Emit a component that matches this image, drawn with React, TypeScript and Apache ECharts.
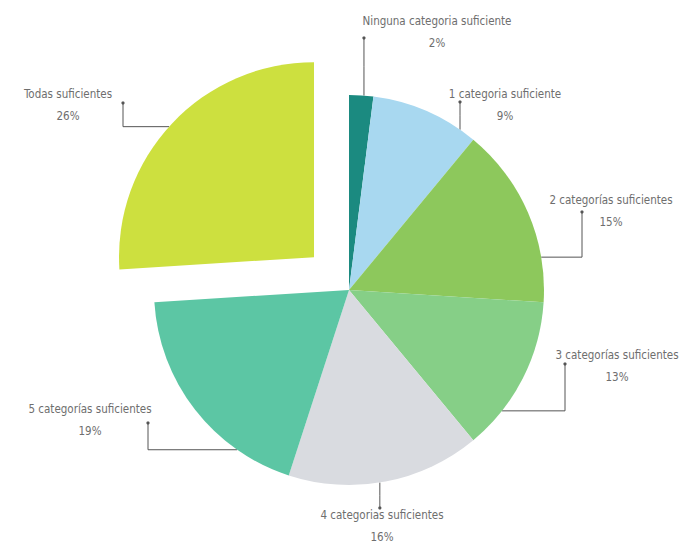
import React, { useEffect, useRef } from "react";
import * as echarts from "echarts";

const categories = [
  "Ninguna categoria suficiente",
  "1 categoria suficiente",
  "2 categorías suficientes",
  "3 categorías suficientes",
  "4 categorias suficientes",
  "5 categorías suficientes",
  "Todas suficientes",
];
const percentages = [2, 9, 15, 13, 16, 19, 26];
const colors = ["#1b8a80", "#a8d8f0", "#8dc85c", "#86cf87", "#d9dbe0", "#5cc6a4", "#cde03f"];

const CX = 349;
const CY = 290;
const R = 195;
const EXPLODE = 48;
const EXPLODED_INDEX = 6;

// label layout: anchor angle on the arc (deg), elbow x (null = straight), tip y, text centre
const labelLayoutCfg = [
  { angle: 85.6, elbowX: null, tipY: 38, tx: 437, ty: 32 },
  { angle: 55.3, elbowX: null, tipY: 102, tx: 505, ty: 105 },
  { angle: 9.7, elbowX: 582, tipY: 212, tx: 611, ty: 211 },
  { angle: -38.3, elbowX: 565, tipY: 364, tx: 617, ty: 366 },
  { angle: -80.9, elbowX: null, tipY: 508, tx: 382, ty: 526 },
  { angle: 235, elbowX: 148, tipY: 423, tx: 90, ty: 420 },
  { angle: 138, elbowX: 123, tipY: 103, tx: 68, ty: 105 },
];

function sliceCenter(idx: number): [number, number] {
  if (idx !== EXPLODED_INDEX) return [CX, CY];
  const total = percentages.reduce((a, b) => a + b, 0);
  let before = 0;
  for (let i = 0; i < idx; i++) before += percentages[i];
  const startDeg = 90 - (before / total) * 360;
  const endDeg = startDeg - (percentages[idx] / total) * 360;
  const mid = (((startDeg + endDeg) / 2) * Math.PI) / 180;
  return [CX + EXPLODE * Math.cos(mid), CY - EXPLODE * Math.sin(mid)];
}

function linePoints(i: number): number[][] {
  const L = labelLayoutCfg[i];
  const [cx, cy] = sliceCenter(i);
  const a = (L.angle * Math.PI) / 180;
  const sx = cx + R * Math.cos(a);
  const sy = cy - R * Math.sin(a);
  return L.elbowX === null
    ? [[sx, sy], [sx, (sy + L.tipY) / 2], [sx, L.tipY]]
    : [[sx, sy], [L.elbowX, sy], [L.elbowX, L.tipY]];
}

export default function App() {
  const ref = useRef<HTMLDivElement>(null);
  useEffect(() => {
    document.body.style.margin = "0";
    const chart = echarts.init(ref.current!, undefined, { renderer: "svg" });
    const fontFamily = "'DejaVu Sans Condensed', 'Liberation Sans Narrow', sans-serif";

    const labelBase = {
      show: true,
      position: "outside",
      formatter: "{b}\n{c}%",
      color: "#6e6e6e",
      fontFamily,
      fontSize: 11.5,
      lineHeight: 22,
      align: "center",
    };
    const labelLineBase = {
      show: true,
      smooth: false,
      lineStyle: { color: "#555555", width: 1 },
    };
    const layoutFn = (params: any) => {
      const i = params.dataIndex;
      const L = labelLayoutCfg[i];
      return {
        x: L.tx,
        y: L.ty,
        align: "center",
        verticalAlign: "middle",
        labelLinePoints: linePoints(i),
      };
    };

    const makeSeries = (showIndex: (i: number) => boolean, center: [number, number]) => ({
      type: "pie",
      center,
      radius: [0, R],
      startAngle: 90,
      clockwise: true,
      avoidLabelOverlap: false,
      silent: true,
      itemStyle: { borderWidth: 0 },
      emphasis: { disabled: true },
      label: labelBase,
      labelLine: labelLineBase,
      labelLayout: layoutFn,
      data: categories.map((name, i) => {
        const visible = showIndex(i);
        return {
          name,
          value: percentages[i],
          itemStyle: { color: visible ? colors[i] : "rgba(0,0,0,0)" },
          label: { show: visible },
          labelLine: { show: visible },
        };
      }),
    });

    const tips = labelLayoutCfg.map((_, i) => {
      const p = linePoints(i)[2];
      return {
        type: "circle",
        shape: { cx: p[0], cy: p[1], r: 1.6 },
        style: { fill: "#555555" },
        silent: true,
      };
    });

    chart.setOption({
      animation: false,
      backgroundColor: "#ffffff",
      graphic: tips,
      series: [
        makeSeries((i) => i !== EXPLODED_INDEX, [CX, CY]),
        makeSeries((i) => i === EXPLODED_INDEX, sliceCenter(EXPLODED_INDEX)),
      ],
    });
    return () => chart.dispose();
  }, []);
  return <div ref={ref} style={{ width: 683, height: 546 }} />;
}
